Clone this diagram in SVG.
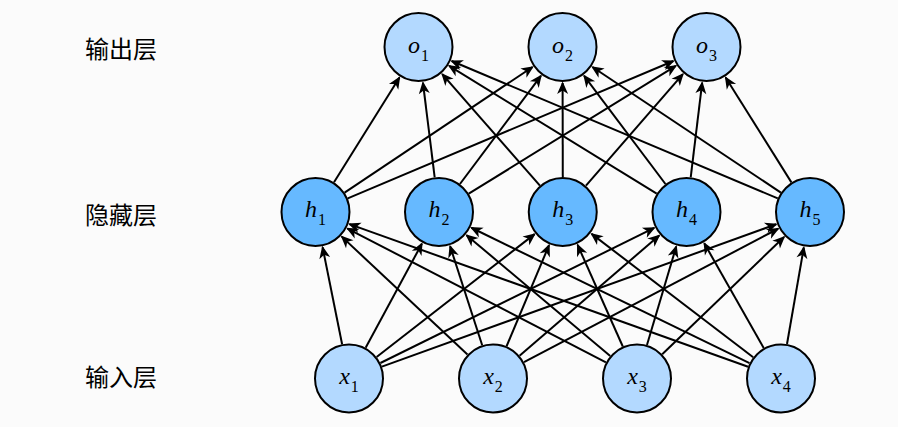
<svg xmlns="http://www.w3.org/2000/svg" width="898" height="427" viewBox="0 0 898 427">
<style>
.bg{fill:#fbfbfb}
.edge{stroke:#000;stroke-width:2;fill:none;marker-end:url(#arr)}
.nd{stroke:#000;stroke-width:2}
.light{fill:#b3d9ff}
.dark{fill:#66b9ff}
.lbl{font-family:"Liberation Serif","DejaVu Serif",serif;font-size:24px;fill:#000}
.v{font-style:italic}
.sub{font-size:16px}
.layer{font-family:"Noto Sans CJK SC","Noto Sans",sans-serif;font-size:24px;fill:#000}
</style>
<defs>
<marker id="arr" markerUnits="userSpaceOnUse" markerWidth="16" markerHeight="12" refX="0" refY="0" orient="auto" overflow="visible" viewBox="-12 -6 16 12">
<path d="M1.5,0 L-11,-5.5 L-7.5,0 L-11,5.5 Z" fill="#000"/>
</marker>
</defs>
<rect class="bg" x="0" y="0" width="898" height="427"/>
<g id="layer-labels">
<text class="layer" x="85" y="57.5">输出层</text>
<text class="layer" x="85" y="223.5">隐藏层</text>
<text class="layer" x="85" y="386">输入层</text>
</g>
<g id="connectors">
<line class="edge" x1="342.10" y1="344.19" x2="322.60" y2="247.29"/>
<line class="edge" x1="365.64" y1="347.71" x2="421.88" y2="243.67"/>
<line class="edge" x1="376.62" y1="357.01" x2="534.59" y2="234.11"/>
<line class="edge" x1="380.39" y1="363.02" x2="654.22" y2="227.93"/>
<line class="edge" x1="381.92" y1="366.61" x2="776.14" y2="224.23"/>
<line class="edge" x1="467.47" y1="354.56" x2="341.76" y2="236.63"/>
<line class="edge" x1="482.20" y1="345.21" x2="450.11" y2="246.24"/>
<line class="edge" x1="506.56" y1="346.24" x2="549.05" y2="245.19"/>
<line class="edge" x1="519.53" y1="355.67" x2="659.21" y2="235.48"/>
<line class="edge" x1="523.99" y1="362.23" x2="778.13" y2="228.74"/>
<line class="edge" x1="605.92" y1="362.40" x2="347.47" y2="228.56"/>
<line class="edge" x1="610.21" y1="355.97" x2="466.55" y2="235.17"/>
<line class="edge" x1="622.79" y1="346.52" x2="577.62" y2="244.90"/>
<line class="edge" x1="646.97" y1="344.95" x2="676.24" y2="246.51"/>
<line class="edge" x1="662.22" y1="354.23" x2="784.06" y2="236.96"/>
<line class="edge" x1="748.05" y1="366.71" x2="349.40" y2="224.12"/>
<line class="edge" x1="749.53" y1="363.18" x2="471.37" y2="227.76"/>
<line class="edge" x1="753.19" y1="357.26" x2="591.61" y2="233.85"/>
<line class="edge" x1="763.72" y1="348.06" x2="704.27" y2="243.31"/>
<line class="edge" x1="787.01" y1="344.02" x2="803.82" y2="247.47"/>
<line class="edge" x1="334.03" y1="182.31" x2="399.44" y2="77.54"/>
<line class="edge" x1="344.60" y1="192.56" x2="532.57" y2="67.00"/>
<line class="edge" x1="347.75" y1="198.39" x2="673.33" y2="61.00"/>
<line class="edge" x1="434.69" y1="177.27" x2="422.94" y2="82.73"/>
<line class="edge" x1="459.97" y1="183.98" x2="540.93" y2="75.82"/>
<line class="edge" x1="468.79" y1="193.63" x2="675.86" y2="65.90"/>
<line class="edge" x1="539.94" y1="185.67" x2="442.22" y2="74.08"/>
<line class="edge" x1="562.80" y1="177.00" x2="562.60" y2="83.00"/>
<line class="edge" x1="585.97" y1="185.59" x2="682.88" y2="74.16"/>
<line class="edge" x1="656.70" y1="193.65" x2="449.16" y2="65.87"/>
<line class="edge" x1="665.47" y1="184.02" x2="584.13" y2="75.78"/>
<line class="edge" x1="690.71" y1="177.26" x2="702.17" y2="82.74"/>
<line class="edge" x1="777.75" y1="198.41" x2="451.67" y2="60.98"/>
<line class="edge" x1="780.88" y1="192.59" x2="592.45" y2="66.97"/>
<line class="edge" x1="791.40" y1="182.35" x2="725.63" y2="77.50"/>
</g>
<g id="o1"><circle class="nd light" cx="418.5" cy="47" r="34"/><text class="lbl" x="418.5" y="52.5" text-anchor="middle"><tspan class="v">o</tspan><tspan class="sub" dx="1" dy="8">1</tspan></text></g>
<g id="o2"><circle class="nd light" cx="562.5" cy="47" r="34"/><text class="lbl" x="562.5" y="52.5" text-anchor="middle"><tspan class="v">o</tspan><tspan class="sub" dx="1" dy="8">2</tspan></text></g>
<g id="o3"><circle class="nd light" cx="706.5" cy="47" r="34"/><text class="lbl" x="706.5" y="52.5" text-anchor="middle"><tspan class="v">o</tspan><tspan class="sub" dx="1" dy="8">3</tspan></text></g>
<g id="h1"><circle class="nd dark" cx="315.5" cy="212" r="34"/><text class="lbl" x="315.5" y="217" text-anchor="middle"><tspan class="v">h</tspan><tspan class="sub" dx="1" dy="8">1</tspan></text></g>
<g id="h2"><circle class="nd dark" cx="439" cy="212" r="34"/><text class="lbl" x="439" y="217" text-anchor="middle"><tspan class="v">h</tspan><tspan class="sub" dx="1" dy="8">2</tspan></text></g>
<g id="h3"><circle class="nd dark" cx="562.75" cy="212" r="34"/><text class="lbl" x="562.75" y="217" text-anchor="middle"><tspan class="v">h</tspan><tspan class="sub" dx="1" dy="8">3</tspan></text></g>
<g id="h4"><circle class="nd dark" cx="686.5" cy="212" r="34"/><text class="lbl" x="686.5" y="217" text-anchor="middle"><tspan class="v">h</tspan><tspan class="sub" dx="1" dy="8">4</tspan></text></g>
<g id="h5"><circle class="nd dark" cx="810" cy="212" r="34"/><text class="lbl" x="810" y="217" text-anchor="middle"><tspan class="v">h</tspan><tspan class="sub" dx="1" dy="8">5</tspan></text></g>
<g id="x1"><circle class="nd light" cx="349" cy="378.5" r="34"/><text class="lbl" x="349" y="383.5" text-anchor="middle"><tspan class="v">x</tspan><tspan class="sub" dx="1" dy="8">1</tspan></text></g>
<g id="x2"><circle class="nd light" cx="493" cy="378.5" r="34"/><text class="lbl" x="493" y="383.5" text-anchor="middle"><tspan class="v">x</tspan><tspan class="sub" dx="1" dy="8">2</tspan></text></g>
<g id="x3"><circle class="nd light" cx="637" cy="378.5" r="34"/><text class="lbl" x="637" y="383.5" text-anchor="middle"><tspan class="v">x</tspan><tspan class="sub" dx="1" dy="8">3</tspan></text></g>
<g id="x4"><circle class="nd light" cx="781" cy="378.5" r="34"/><text class="lbl" x="781" y="383.5" text-anchor="middle"><tspan class="v">x</tspan><tspan class="sub" dx="1" dy="8">4</tspan></text></g>
</svg>
